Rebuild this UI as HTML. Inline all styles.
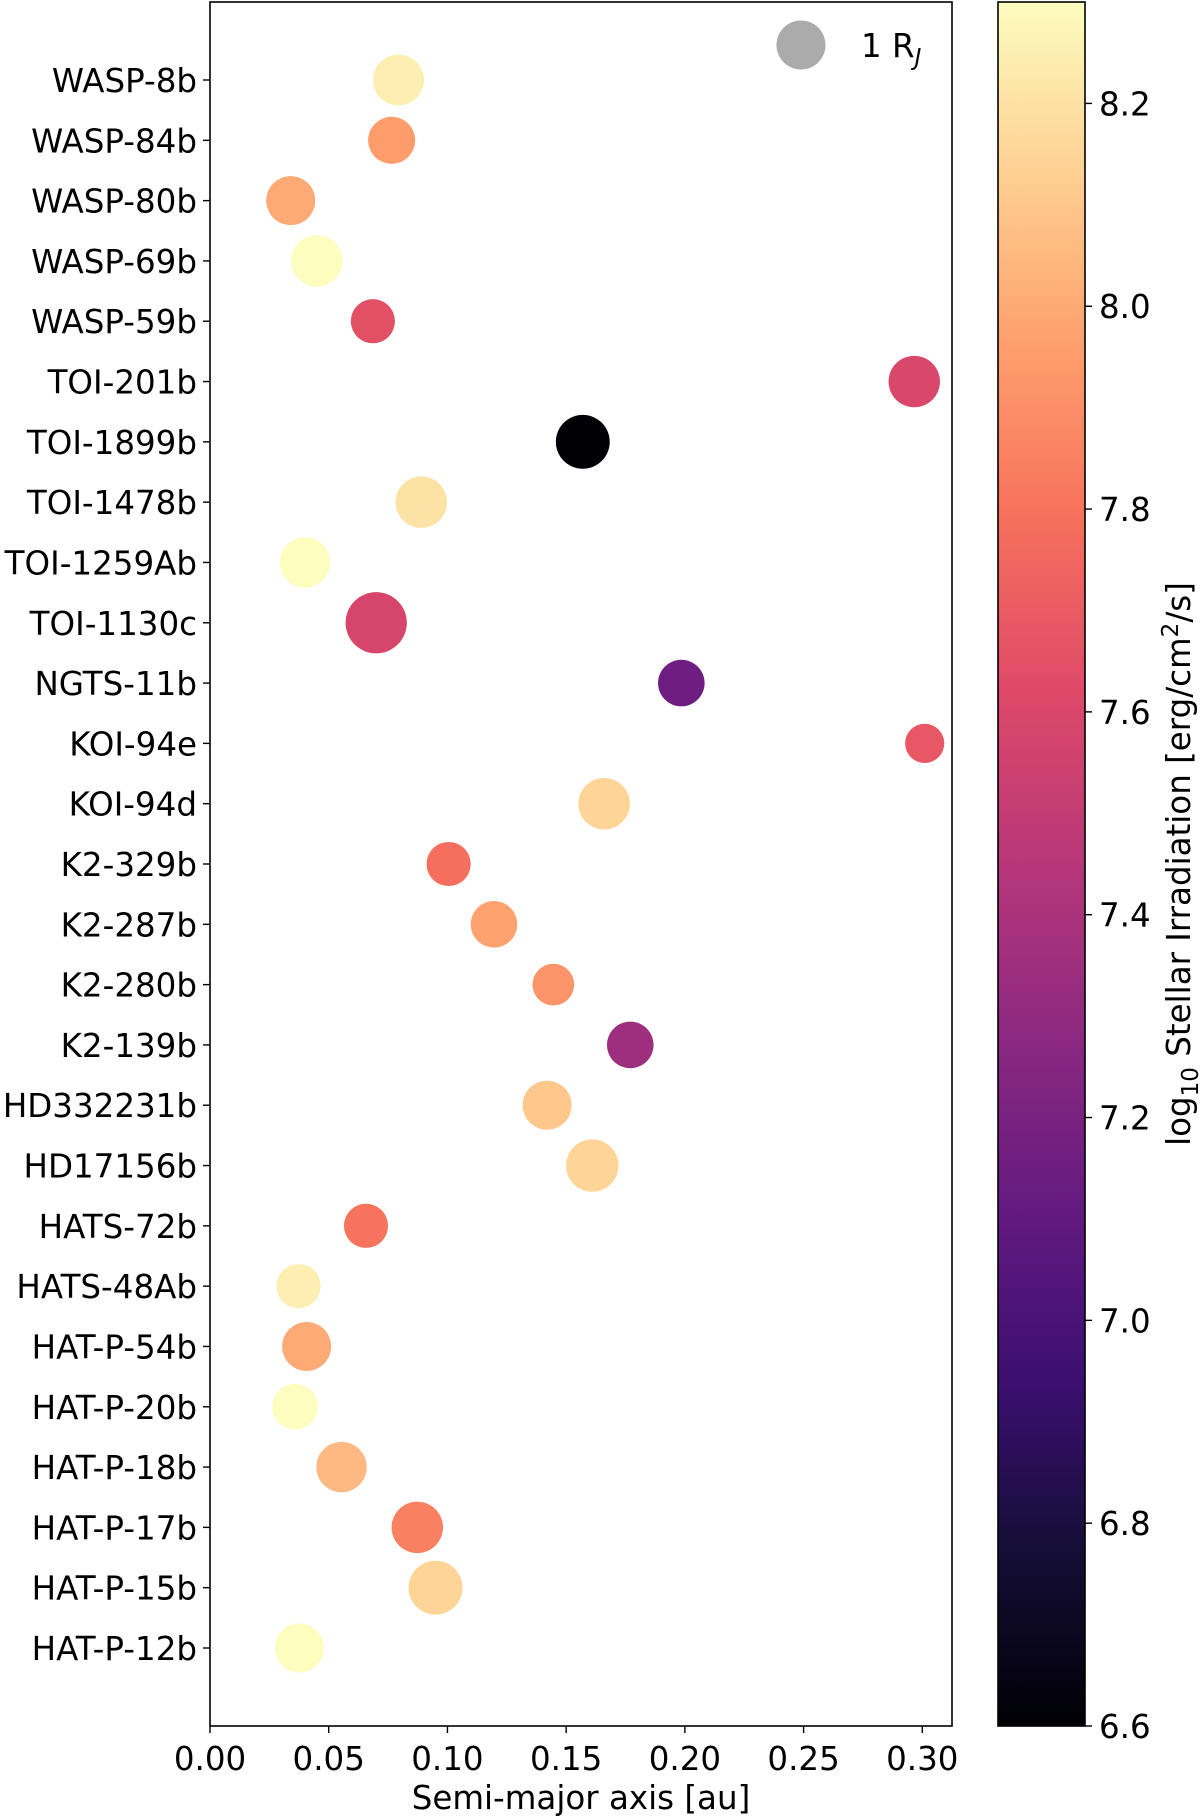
<!DOCTYPE html>
<html><head><meta charset="utf-8"><style>
body{margin:0;background:#fff}
svg{display:block;font-family:"DejaVu Sans","Liberation Sans",sans-serif}
</style></head><body>
<svg id="chart" width="1200" height="1818" viewBox="0 0 1200 1818" xmlns="http://www.w3.org/2000/svg">
<defs>
<linearGradient id="magma" x1="0" y1="1" x2="0" y2="0">
<stop offset="0" stop-color="#000004"/><stop offset="0.1" stop-color="#140e36"/><stop offset="0.2" stop-color="#3b0f70"/><stop offset="0.3" stop-color="#641a80"/><stop offset="0.4" stop-color="#8c2981"/><stop offset="0.5" stop-color="#b73779"/><stop offset="0.6" stop-color="#de4968"/><stop offset="0.7" stop-color="#f7705c"/><stop offset="0.8" stop-color="#fe9f6d"/><stop offset="0.9" stop-color="#fecf92"/><stop offset="1" stop-color="#fcfdbf"/>
</linearGradient>
</defs>
<g id="plot"></g>
</svg>
<script>
const planets=["HAT-P-12b","HAT-P-15b","HAT-P-17b","HAT-P-18b","HAT-P-20b","HAT-P-54b","HATS-48Ab","HATS-72b","HD17156b","HD332231b","K2-139b","K2-280b","K2-287b","K2-329b","KOI-94d","KOI-94e","NGTS-11b","TOI-1130c","TOI-1259Ab","TOI-1478b","TOI-1899b","TOI-201b","WASP-59b","WASP-69b","WASP-80b","WASP-84b","WASP-8b"];
const semiMajor=[0.0377,0.095,0.0873,0.0554,0.0358,0.0407,0.0373,0.0657,0.161,0.142,0.177,0.1446,0.1196,0.1005,0.166,0.301,0.1985,0.070,0.040,0.089,0.157,0.2966,0.0686,0.045,0.034,0.0765,0.0794];
const radiusRJ=[1.0,1.1,1.05,1.03,0.93,1.0,0.9,0.9,1.07,1.0,0.95,0.85,0.95,0.9,1.05,0.8,0.95,1.25,1.03,1.05,1.1,1.05,0.9,1.05,1.0,0.96,1.04];
const logIrr=[8.3,8.15,7.85,8.05,8.3,8.0,8.25,7.8,8.15,8.1,7.35,7.92,7.97,7.78,8.15,7.68,7.15,7.58,8.3,8.2,6.6,7.6,7.65,8.3,8.0,7.95,8.25];
const xTicks=[0,0.05,0.10,0.15,0.20,0.25,0.30];
const xTickLabels=["0.00","0.05","0.10","0.15","0.20","0.25","0.30"];
const cTicks=[6.6,6.8,7.0,7.2,7.4,7.6,7.8,8.0,8.2];

const L=210,R=952,T=2,B=1726,XMAX=0.3125;
const x=v=>L+v/XMAX*(R-L);
const y=i=>1648-i*(1648-80)/26;
const CB={l:998,r:1085,t:2,b:1726,min:6.6,max:8.3};
const cy=v=>CB.b-(v-CB.min)/(CB.max-CB.min)*(CB.b-CB.t);
const stops=["#000004","#140e36","#3b0f70","#641a80","#8c2981","#b73779","#de4968","#f7705c","#fe9f6d","#fecf92","#fcfdbf"];
function hex(h){return [1,3,5].map(k=>parseInt(h.substr(k,2),16));}
function magma(v){let t=Math.max(0,Math.min(1,(v-CB.min)/(CB.max-CB.min)))*10;let i=Math.min(9,Math.floor(t)),f=t-i;
 const a=hex(stops[i]),b=hex(stops[i+1]);return "rgb("+a.map((c,k)=>Math.round(c+(b[k]-c)*f)).join(",")+")";}
const NS="http://www.w3.org/2000/svg",g=document.getElementById("plot");
function el(tag,attrs,txt){const e=document.createElementNS(NS,tag);for(const k in attrs)e.setAttribute(k,attrs[k]);if(txt!=null)e.textContent=txt;g.appendChild(e);return e;}

let e=el("rect",{x:L,y:T,width:R-L,height:B-T,fill:"none",stroke:"#000","stroke-width":1.6});



planets.forEach((p,i)=>{
 let t=el("line",{x1:L-7,x2:L,y1:y(i),y2:y(i),stroke:"#000","stroke-width":1.4});
 
 
 let lb=el("text",{x:L-13,y:y(i)+12,"text-anchor":"end","font-size":32.5},p);
 
 
 let c=el("circle",{cx:x(semiMajor[i]),cy:y(i),r:24.5*radiusRJ[i],fill:magma(logIrr[i])});
 
 
});
xTicks.forEach((v,i)=>{
 let t=el("line",{x1:x(v),x2:x(v),y1:B,y2:B+7,stroke:"#000","stroke-width":1.4});
 
 
 let lb=el("text",{x:x(v),y:B+44,"text-anchor":"middle","font-size":32.5},xTickLabels[i]);
 
 
});
let xl=el("text",{x:(L+R)/2,y:1809,"text-anchor":"middle","font-size":32.5},"Semi-major axis [au]");



let lc=el("circle",{cx:801,cy:45,r:24.5,fill:"#ababab"});


let lt=el("text",{x:861,y:57,"font-size":32.5},"1 R");


const sub=document.createElementNS(NS,"tspan");sub.setAttribute("font-size","23");sub.setAttribute("dy","8");sub.setAttribute("font-style","italic");sub.textContent="J";lt.appendChild(sub);

let cb=el("rect",{x:CB.l,y:CB.t,width:CB.r-CB.l,height:CB.b-CB.t,fill:"url(#magma)",stroke:"#000","stroke-width":1.6});


cTicks.forEach(v=>{
 let t=el("line",{x1:CB.r,x2:CB.r+7,y1:cy(v),y2:cy(v),stroke:"#000","stroke-width":1.4});
 
 
 let lb=el("text",{x:CB.r+14,y:cy(v)+12,"font-size":32.5},v.toFixed(1));
 
 
});
let ct=el("text",{x:0,y:0,"font-size":32.5,"text-anchor":"middle",transform:"translate(1190,864) rotate(-90)"});


ct.innerHTML='log<tspan font-size="23" dy="8">10</tspan><tspan dy="-8"> Stellar Irradiation [erg/cm</tspan><tspan font-size="23" dy="-12">2</tspan><tspan dy="12">/s]</tspan>';
</script>
</body></html>
